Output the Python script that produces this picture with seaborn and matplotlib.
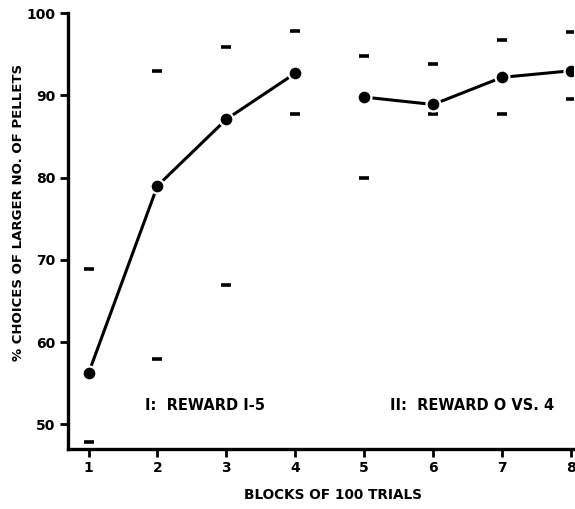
import matplotlib
matplotlib.use("Agg")
import matplotlib.pyplot as plt
import pandas as pd
import seaborn as sns

# values
blocks = [1, 2, 3, 4, 5, 6, 7, 8]
phase = ["I", "I", "I", "I", "II", "II", "II", "II"]
pct_larger = [56.2, 79.0, 87.1, 92.7, 89.8, 88.9, 92.2, 93.0]
upper_mark = [68.9, 93.0, 95.9, 97.8, 94.8, 93.8, 96.7, 97.7]
lower_mark = [47.8, 58.0, 67.0, 87.8, 79.9, 87.7, 87.7, 89.6]

y_ticks = [50, 60, 70, 80, 90, 100]
x_ticks = blocks

df = pd.DataFrame({
    "block": blocks,
    "phase": phase,
    "pct": pct_larger,
    "upper": upper_mark,
    "lower": lower_mark,
})

sns.set_style("ticks")
plt.rcParams["font.family"] = ["DejaVu Sans"]
plt.rcParams["font.weight"] = "bold"
plt.rcParams["text.color"] = "black"
plt.rcParams["axes.edgecolor"] = "black"
plt.rcParams["axes.linewidth"] = 2.4
plt.rcParams["xtick.color"] = "black"
plt.rcParams["ytick.color"] = "black"
plt.rcParams["xtick.major.size"] = 6
plt.rcParams["ytick.major.size"] = 6
plt.rcParams["xtick.major.width"] = 2.0
plt.rcParams["ytick.major.width"] = 2.0

fig, ax = plt.subplots(figsize=(5.75, 5.09), dpi=100)
fig.subplots_adjust(left=0.118, right=0.9965, bottom=0.118, top=0.974)

sns.lineplot(
    data=df, x="block", y="pct", hue="phase",
    palette={"I": "black", "II": "black"},
    linewidth=2.2, marker="o", markersize=10,
    markeredgecolor="white", markeredgewidth=1.6,
    legend=False, ax=ax,
)

# range marks drawn as short horizontal dashes
for col in ["upper", "lower"]:
    sns.scatterplot(
        data=df, x="block", y=col, marker="_", s=45,
        color="black", linewidth=2.6, legend=False, ax=ax,
    )

ax.set_xlim(0.7, 8.03)
ax.set_ylim(47, 100)
ax.set_xticks(x_ticks)
ax.set_yticks(y_ticks)
ax.tick_params(axis="both", direction="out", length=6, width=2.0, pad=3,
               labelsize=10, color="black", labelcolor="black",
               left=True, bottom=True)
sns.despine(ax=ax)

ax.set_xlabel("")
ax.set_ylabel("")
fig.text(0.579, 0.028, "BLOCKS OF 100 TRIALS", ha="center", va="center",
         fontsize=9.8, fontweight="bold")
fig.text(0.032, 0.583, "% CHOICES OF LARGER NO. OF PELLETS", rotation=90,
         ha="center", va="center", fontsize=9.5, fontweight="bold")

ax.text(2.69, 52.3, "I:  REWARD I-5", ha="center", va="center",
        fontsize=10.5, fontweight="bold")
ax.text(6.56, 52.3, "II:  REWARD O VS. 4", ha="center", va="center",
        fontsize=10.5, fontweight="bold")

fig.savefig("out.png", dpi=100)
